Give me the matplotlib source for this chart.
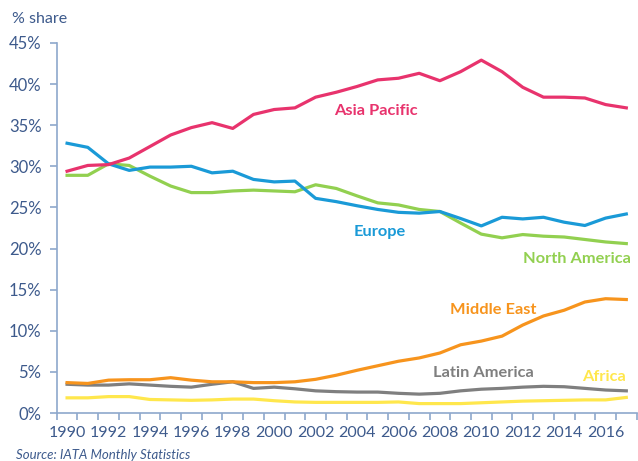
import numpy as np
import matplotlib

matplotlib.use("Agg")
from matplotlib import pyplot as plt

years = list(range(1990, 2018))

asia_pacific = [29.4, 30.1, 30.2, 31.0, 32.4, 33.8, 34.7, 35.3, 34.6, 36.3,
                36.9, 37.1, 38.4, 39.0, 39.7, 40.5, 40.7, 41.3, 40.4, 41.5,
                42.9, 41.5, 39.6, 38.4, 38.4, 38.3, 37.5, 37.1]
europe = [32.8, 32.3, 30.3, 29.5, 29.9, 29.9, 30.0, 29.2, 29.4, 28.4,
          28.1, 28.2, 26.1, 25.7, 25.2, 24.75, 24.4, 24.3, 24.5, 23.65,
          22.75, 23.8, 23.6, 23.8, 23.2, 22.8, 23.7, 24.2]
north_america = [28.9, 28.9, 30.3, 30.1, 28.8, 27.6, 26.8, 26.8, 27.0, 27.1,
                 27.0, 26.9, 27.75, 27.3, 26.4, 25.55, 25.3, 24.75, 24.5, 23.1,
                 21.75, 21.3, 21.7, 21.5, 21.4, 21.1, 20.8, 20.6]
middle_east = [3.7, 3.6, 4.0, 4.05, 4.05, 4.3, 4.0, 3.8, 3.8, 3.7,
               3.7, 3.8, 4.1, 4.6, 5.2, 5.75, 6.3, 6.7, 7.3, 8.3,
               8.75, 9.35, 10.7, 11.8, 12.5, 13.5, 13.9, 13.8]
latin_america = [3.5, 3.4, 3.4, 3.55, 3.4, 3.25, 3.15, 3.5, 3.8, 3.0,
                 3.15, 2.95, 2.7, 2.6, 2.55, 2.55, 2.4, 2.3, 2.4, 2.7,
                 2.9, 3.0, 3.15, 3.25, 3.2, 3.0, 2.8, 2.7]
africa = [1.85, 1.85, 2.0, 2.0, 1.65, 1.6, 1.55, 1.6, 1.7, 1.7,
          1.5, 1.35, 1.3, 1.3, 1.3, 1.3, 1.35, 1.15, 1.15, 1.15,
          1.25, 1.35, 1.45, 1.5, 1.55, 1.6, 1.6, 1.9]

plt.rcParams['font.family'] = ['Lato', 'DejaVu Sans']
text_col = '#3D5A8C'
axis_col = '#8EA8CC'

fig = plt.figure(figsize=(6.38, 4.61), dpi=100)
ax = fig.add_axes([0.0889, 0.104, 0.909, 0.803])

series = [
    (asia_pacific, '#E8336D', 'Asia Pacific', 2004.9, 36.7),
    (europe, '#1A9AD7', 'Europe', 2005.1, 22.0),
    (north_america, '#92D050', 'North America', 2014.6, 18.7),
    (middle_east, '#F7941D', 'Middle East', 2010.55, 12.5),
    (latin_america, '#7F7F7F', 'Latin America', 2010.1, 4.85),
    (africa, '#FFE74C', 'Africa', 2015.9, 4.4),
]
# draw bottom series first so the big ones sit on top
for vals, col, name, tx, ty in series[::-1]:
    ax.plot(years, vals, color=col, lw=2.3, solid_joinstyle='round')
    ax.text(tx, ty, name, color=col, fontsize=11.8, fontweight='bold',
            ha='center', va='center')

ax.set_xlim(1989.5, 2017.5)
ax.set_ylim(0, 45)
ax.set_yticks(np.arange(0, 46, 5))
ax.set_yticklabels([f'{v}%' for v in range(0, 46, 5)])
ax.set_xticks(range(1990, 2017, 2))
ax.set_xticks(np.arange(1989.5, 2018, 1), minor=True)

for s in ['top', 'right']:
    ax.spines[s].set_visible(False)
for s in ['left', 'bottom']:
    ax.spines[s].set_color(axis_col)
    ax.spines[s].set_linewidth(1.2)

ax.tick_params(axis='y', colors=axis_col, labelcolor=text_col, labelsize=12,
               length=5, width=1.2, pad=6)
ax.tick_params(axis='x', which='major', length=0, labelcolor=text_col,
               labelsize=11.5, pad=9)
ax.tick_params(axis='x', which='minor', colors=axis_col, length=5, width=1.2)

fig.text(0.019, 0.958, '% share', color=text_col, fontsize=11.5,
         ha='left', va='center')
fig.text(0.025, 0.012, 'Source: IATA Monthly Statistics', color=text_col,
         fontsize=9.5, style='italic', ha='left', va='center')

fig.savefig('out.png', dpi=100)
